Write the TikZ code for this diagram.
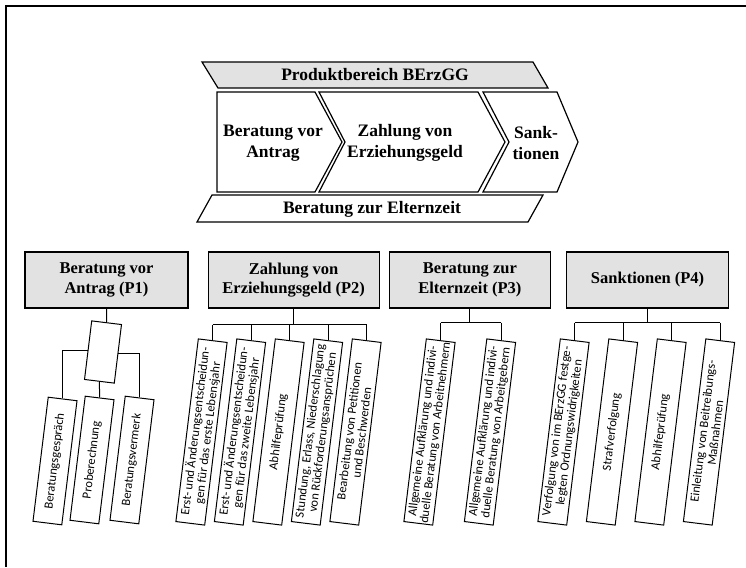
\documentclass[tikz,border=0pt]{standalone}
\usepackage{fontspec}
\setmainfont{Liberation Serif}
\newfontfamily\leafsans{Carlito}
\usepackage{tikz}
\usetikzlibrary{positioning,calc}

\definecolor{boxgray}{RGB}{226,226,226}
\newcommand{\topfont}{\fontsize{17.5}{21}\selectfont\bfseries}
\newcommand{\hdfont}{\fontsize{16.5}{19.5}\selectfont\bfseries}
\newcommand{\lffont}{\leafsans\fontsize{12.5}{12.5}\selectfont}

\begin{document}
\begin{tikzpicture}[x=1pt, y=-1pt,
    band/.style={draw, line width=1.2pt},
    chev/.style={font=\topfont, align=center},
    head/.style={draw, fill=boxgray, line width=1.2pt, font=\hdfont, align=center, minimum height=56pt, inner sep=2pt},
    leaf/.style={draw, fill=white, line width=1pt, rotate=83, font=\lffont, align=center, minimum height=29pt, inner sep=0.5pt},
    link/.style={line width=1pt}]

    \useasboundingbox (0,0) rectangle (746,567);
    \draw[line width=1.6pt] (746,6) -- (6,6) -- (6,567);

    % value chain
    \draw[band, fill=boxgray] (202,62) -- (533,62) -- (548,88) -- (218,88) -- cycle;
    \draw[band] (217,92) -- (315,92) -- (342,142) -- (315,192) -- (217,192) -- cycle;
    \draw[band] (319,92) -- (478,92) -- (505,142) -- (478,192) -- (319,192) -- (345,142) -- cycle;
    \draw[band] (483,92) -- (557,92) -- (578,142) -- (557,192) -- (483,192) -- (509,142) -- cycle;
    \draw[band] (212,195) -- (543,195) -- (528,222) -- (197,222) -- cycle;

    \node[chev] (prod) at (375,75) {Produktbereich BErzGG};
    \node[chev] (vor) at (273,143) {Beratung vor\\Antrag};
    \node[chev] (zahl) at (405,143) {Zahlung von\\Erziehungsgeld};
    \node[chev] (sank) at (536,143) {Sank-\\tionen};
    \node[chev] (elt) at (372,209) {Beratung zur Elternzeit};

    % products
    \node[head, minimum width=163pt] (p1) at (106.5,280) {Beratung vor\\Antrag (P1)};
    \node[head, minimum width=171pt, right=19pt of p1] (p2) {Zahlung von\\Erziehungsgeld (P2)};
    \node[head, minimum width=161pt, right=9pt of p2] (p3) {Beratung zur\\Elternzeit (P3)};
    \node[head, minimum width=162pt, right=15pt of p3] (p4) {Sanktionen (P4)};

    % P1
    \node[leaf, minimum width=59pt, minimum height=30pt] (hub) at (103,352) {};
    \node[leaf, minimum width=125pt] (b11) at (55,461) {Beratungsgespräch};
    \node[leaf, minimum width=125pt] (b12) at (92,460) {Proberechnung};
    \node[leaf, minimum width=125pt] (b13) at (132,460) {Beratungsvermerk};
    \draw[link] (p1.south) -- (hub.east);
    \draw[link] (hub.north) -| (b11.east);
    \draw[link] (hub.west) -- (b12.east);
    \draw[link] (hub.south) -| (b13.east);

    % P2
    \foreach \txt [count=\i] in {
        {Erst- und Änderungsentscheidun-\\gen für das erste Lebensjahr},
        {Erst- und Änderungsentscheidun-\\gen für das zweite Lebensjahr},
        {Abhilfeprüfung},
        {Stundung, Erlass, Niederschlagung\\von Rückforderungsansprüchen},
        {Bearbeitung von Petitionen\\und Beschwerden}}
        \node[leaf, minimum width=184pt] (b2\i) at ({201.5+38.5*(\i-1)},432) {\txt};
    \draw[link] (p2.south) -- ++(0,16) coordinate (bus2);
    \draw[link] (b21.east |- bus2) -- (b25.east |- bus2);
    \foreach \i in {1,...,5}
        \draw[link] (b2\i.east |- bus2) -- (b2\i.east);

    % P3
    \foreach \txt [count=\i] in {
        {Allgemeine Aufklärung und indivi-\\duelle Beratung von Arbeitnehmern},
        {Allgemeine Aufklärung und indivi-\\duelle Beratung von Arbeitgebern}}
        \node[leaf, minimum width=184pt] (b3\i) at ({429.5+60.5*(\i-1)},432) {\txt};
    \draw[link] (p3.south) -- ++(0,14) coordinate (bus3);
    \draw[link] (b31.east |- bus3) -- (b32.east |- bus3);
    \foreach \i in {1,2}
        \draw[link] (b3\i.east |- bus3) -- (b3\i.east);

    % P4
    \foreach \txt [count=\i] in {
        {Verfolgung von im BErzGG festge-\\legten Ordnungswidrigkeiten},
        {Strafverfolgung},
        {Abhilfeprüfung},
        {Einleitung von Beitreibungs-\\Maßnahmen}}
        \node[leaf, minimum width=184pt] (b4\i) at ({563.5+48.5*(\i-1)},432) {\txt};
    \draw[link] (p4.south) -- ++(0,14) coordinate (bus4);
    \draw[link] (b41.east |- bus4) -- (b44.east |- bus4);
    \foreach \i in {1,...,4}
        \draw[link] (b4\i.east |- bus4) -- (b4\i.east);

\end{tikzpicture}
\end{document}
